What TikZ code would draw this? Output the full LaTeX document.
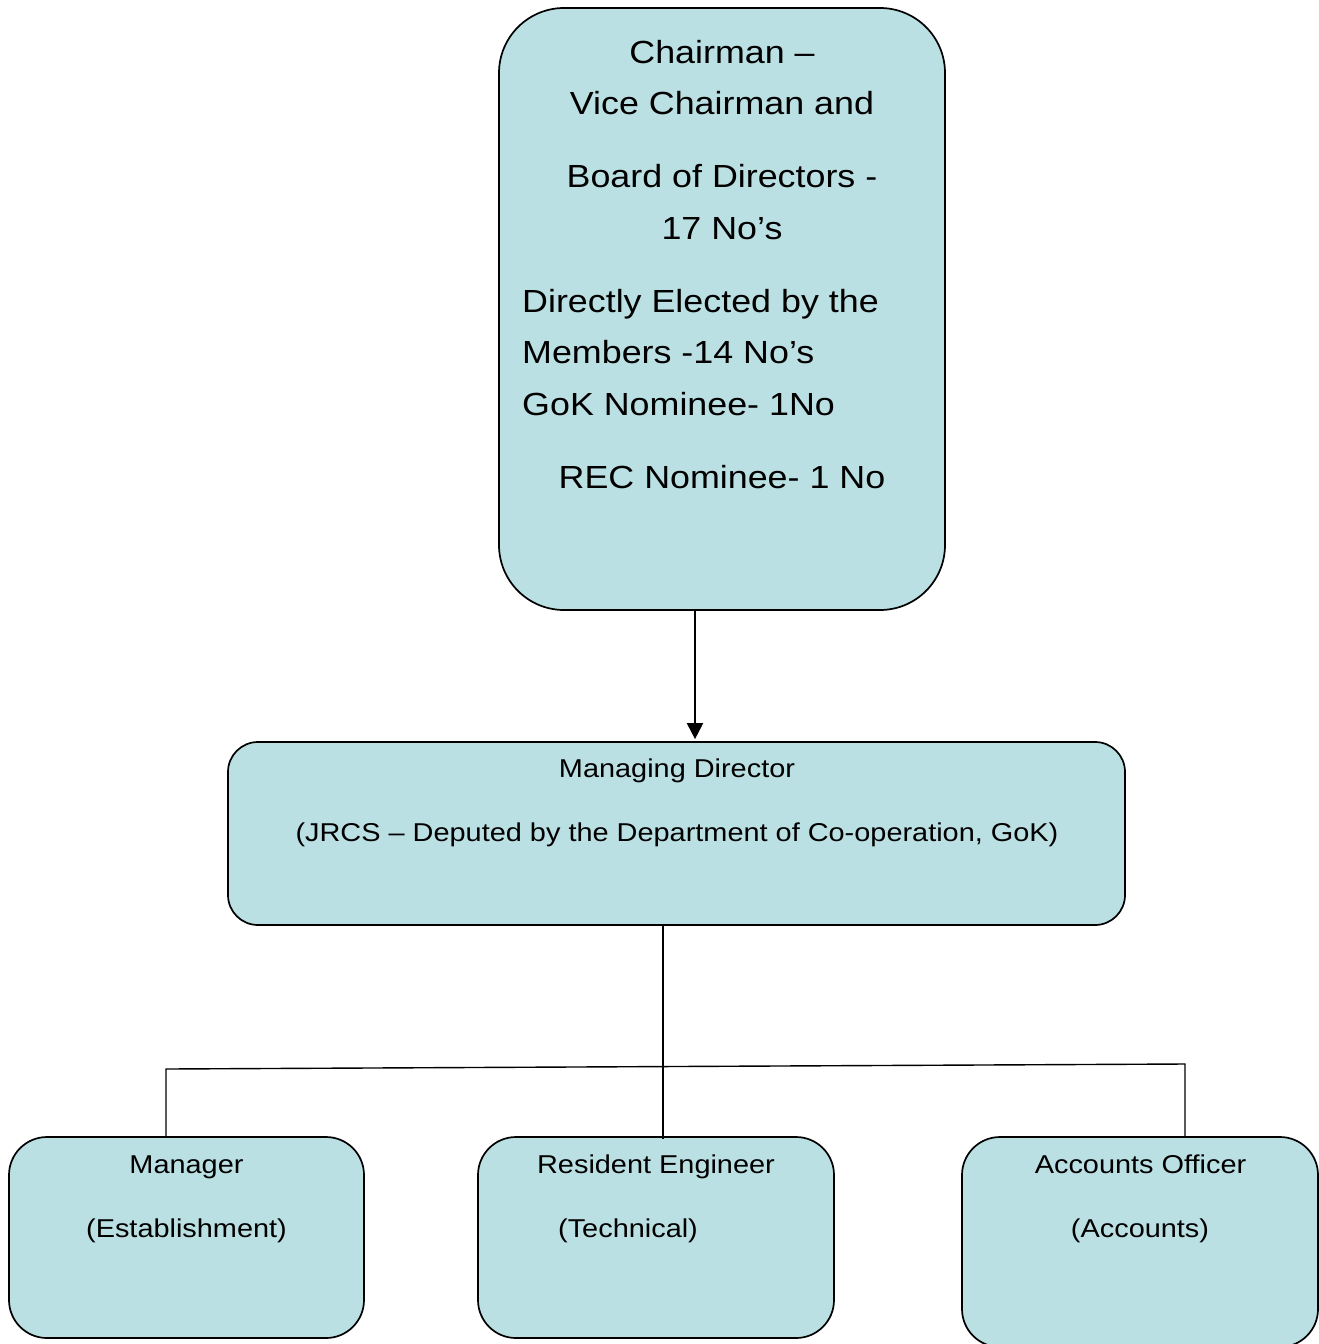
\documentclass[tikz,border=0pt]{standalone}
\usepackage{fontspec}
\setmainfont[FakeStretch=1.12]{Liberation Sans}
\usetikzlibrary{arrows.meta}
\definecolor{boxfill}{RGB}{187,224,227}
\begin{document}
\begin{tikzpicture}[x=1pt,y=-1pt,
  box/.style={draw=black, line width=1.7pt, fill=boxfill, inner sep=0pt},
  bigtxt/.style={inner sep=0pt, font=\fontsize{32}{38}\selectfont},
  smalltxt/.style={inner sep=0pt, font=\fontsize{25.8}{30}\selectfont},
  conn/.style={draw=black, line width=1.4pt}]
\useasboundingbox (0,0) rectangle (1318,1344);
% boxes
\node[box, rounded corners=65pt, minimum width=446pt, minimum height=602pt] (chair) at (722,309) {};
\node[box, rounded corners=30pt, minimum width=897pt, minimum height=183pt] (md) at (676.5,833.5) {};
\node[box, rounded corners=38pt, minimum width=355pt, minimum height=201pt] (mgr) at (186.5,1237.5) {};
\node[box, rounded corners=38pt, minimum width=356pt, minimum height=201pt] (re) at (656,1237.5) {};
\node[box, rounded corners=38pt, minimum width=356pt, minimum height=210pt] (ao) at (1140,1242) {};
% top box text
\node[bigtxt, anchor=base] (t1) at (722,63) {Chairman –};
\node[bigtxt, anchor=base] (t2) at (722,114) {Vice Chairman and};
\node[bigtxt, anchor=base] (t3) at (722,187) {Board of Directors -};
\node[bigtxt, anchor=base] (t4) at (722,239) {17 No’s};
\node[bigtxt, anchor=base west] (t5) at (522,312) {Directly Elected by the};
\node[bigtxt, anchor=base west] (t6) at (522,363) {Members -14 No’s};
\node[bigtxt, anchor=base west] (t7) at (522,415) {GoK Nominee- 1No};
\node[bigtxt, anchor=base] (t8) at (722,488) {REC Nominee- 1 No};
% middle box text
\node[smalltxt, anchor=base] (m1) at (677,777) {Managing Director};
\node[smalltxt, anchor=base] (m2) at (677,841) {(JRCS – Deputed by the Department of Co-operation, GoK)};
% bottom texts
\node[smalltxt, anchor=base] (b1) at (186.5,1173) {Manager};
\node[smalltxt, anchor=base] (b2) at (186.5,1237) {(Establishment)};
\node[smalltxt, anchor=base] (b3) at (656,1173) {Resident Engineer};
\node[smalltxt, anchor=base] (b4) at (628,1237) {(Technical)};
\node[smalltxt, anchor=base] (b5) at (1140.5,1173) {Accounts Officer};
\node[smalltxt, anchor=base] (b6) at (1140,1237) {(Accounts)};
% connectors
\coordinate (ax) at (695,0);
\draw[line width=2pt, -{Triangle[length=16pt,width=16pt]}] (chair.south -| ax) -- ([yshift=2pt]md.north -| ax);
\coordinate (cx) at (663,0);
\draw[conn] (md.south -| cx) -- ([yshift=-3pt]re.north -| cx);
\coordinate (hl) at (166,1069);
\coordinate (hr) at (1185,1064);
\draw[conn] (mgr.north -| hl) -- (hl) -- (hr) -- (ao.north -| hr);
\end{tikzpicture}
\end{document}
